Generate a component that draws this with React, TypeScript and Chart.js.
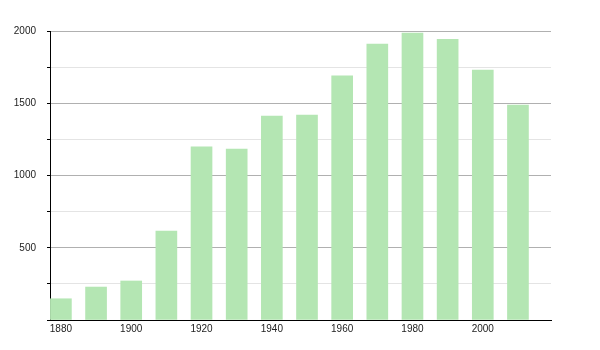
import React, { useEffect, useRef } from "react";
import { Chart, registerables } from "chart.js";

Chart.register(...registerables);

const years: number[] = [1880, 1890, 1900, 1910, 1920, 1930, 1940, 1950, 1960, 1970, 1980, 1990, 2000, 2010];
const population: number[] = [147, 228, 270, 616, 1198, 1182, 1412, 1418, 1690, 1910, 1985, 1943, 1730, 1488];
const xTickLabels: number[] = [1880, 1900, 1920, 1940, 1960, 1980, 2000];
const yTickValues: number[] = [0, 250, 500, 750, 1000, 1250, 1500, 1750, 2000];
const yLabelValues: number[] = [500, 1000, 1500, 2000];

export default function App() {
  const ref = useRef<HTMLCanvasElement | null>(null);

  useEffect(() => {
    if (!ref.current) return;
    const chart = new Chart(ref.current, {
      type: "bar",
      data: {
        datasets: [
          {
            data: years.map((y, i) => ({ x: y, y: population[i] })),
            backgroundColor: "#b4e6b3",
            borderWidth: 0,
            barThickness: 21,
          },
        ],
      },
      options: {
        responsive: false,
        animation: false,
        layout: { padding: { top: 31, right: 49, left: 0, bottom: 0 } },
        plugins: { legend: { display: false }, tooltip: { enabled: false } },
        scales: {
          x: {
            type: "linear",
            min: 1876.9,
            max: 2019.4,
            offset: false,
            afterBuildTicks: (axis: any) => {
              axis.ticks = xTickLabels.map((v) => ({ value: v }));
            },
            afterFit: (scale: any) => {
              scale.height = 30;
            },
            grid: { display: false, drawTicks: false, offset: false },
            border: { display: true, color: "#000", width: 1 },
            ticks: {
              padding: 3,
              maxRotation: 0,
              autoSkip: false,
              color: "#222",
              font: { family: "'Liberation Sans', Arial, sans-serif", size: 10 },
              callback: (v: any) => String(v),
            },
          },
          y: {
            type: "linear",
            min: 0,
            max: 2000,
            afterBuildTicks: (axis: any) => {
              axis.ticks = yTickValues.map((v) => ({ value: v }));
            },
            afterFit: (scale: any) => {
              scale.width = 50;
            },
            border: { display: true, color: "#000", width: 1 },
            grid: {
              drawTicks: true,
              tickLength: 3,
              tickColor: "#000",
              color: (ctx: any) =>
                ctx.tick && ctx.tick.value % 500 === 0 ? "#b0b0b0" : "#e4e4e4",
              lineWidth: 1,
            },
            ticks: {
              padding: 11,
              color: "#222",
              font: { family: "'Liberation Sans', Arial, sans-serif", size: 10 },
              callback: (v: any) => (yLabelValues.includes(Number(v)) ? String(v) : ""),
            },
          },
        },
      },
    });
    return () => chart.destroy();
  }, []);

  return (
    <div style={{ position: "fixed", left: 0, top: 0, width: 600, height: 350, background: "#fff" }}>
      <canvas ref={ref} width={600} height={350} />
    </div>
  );
}
